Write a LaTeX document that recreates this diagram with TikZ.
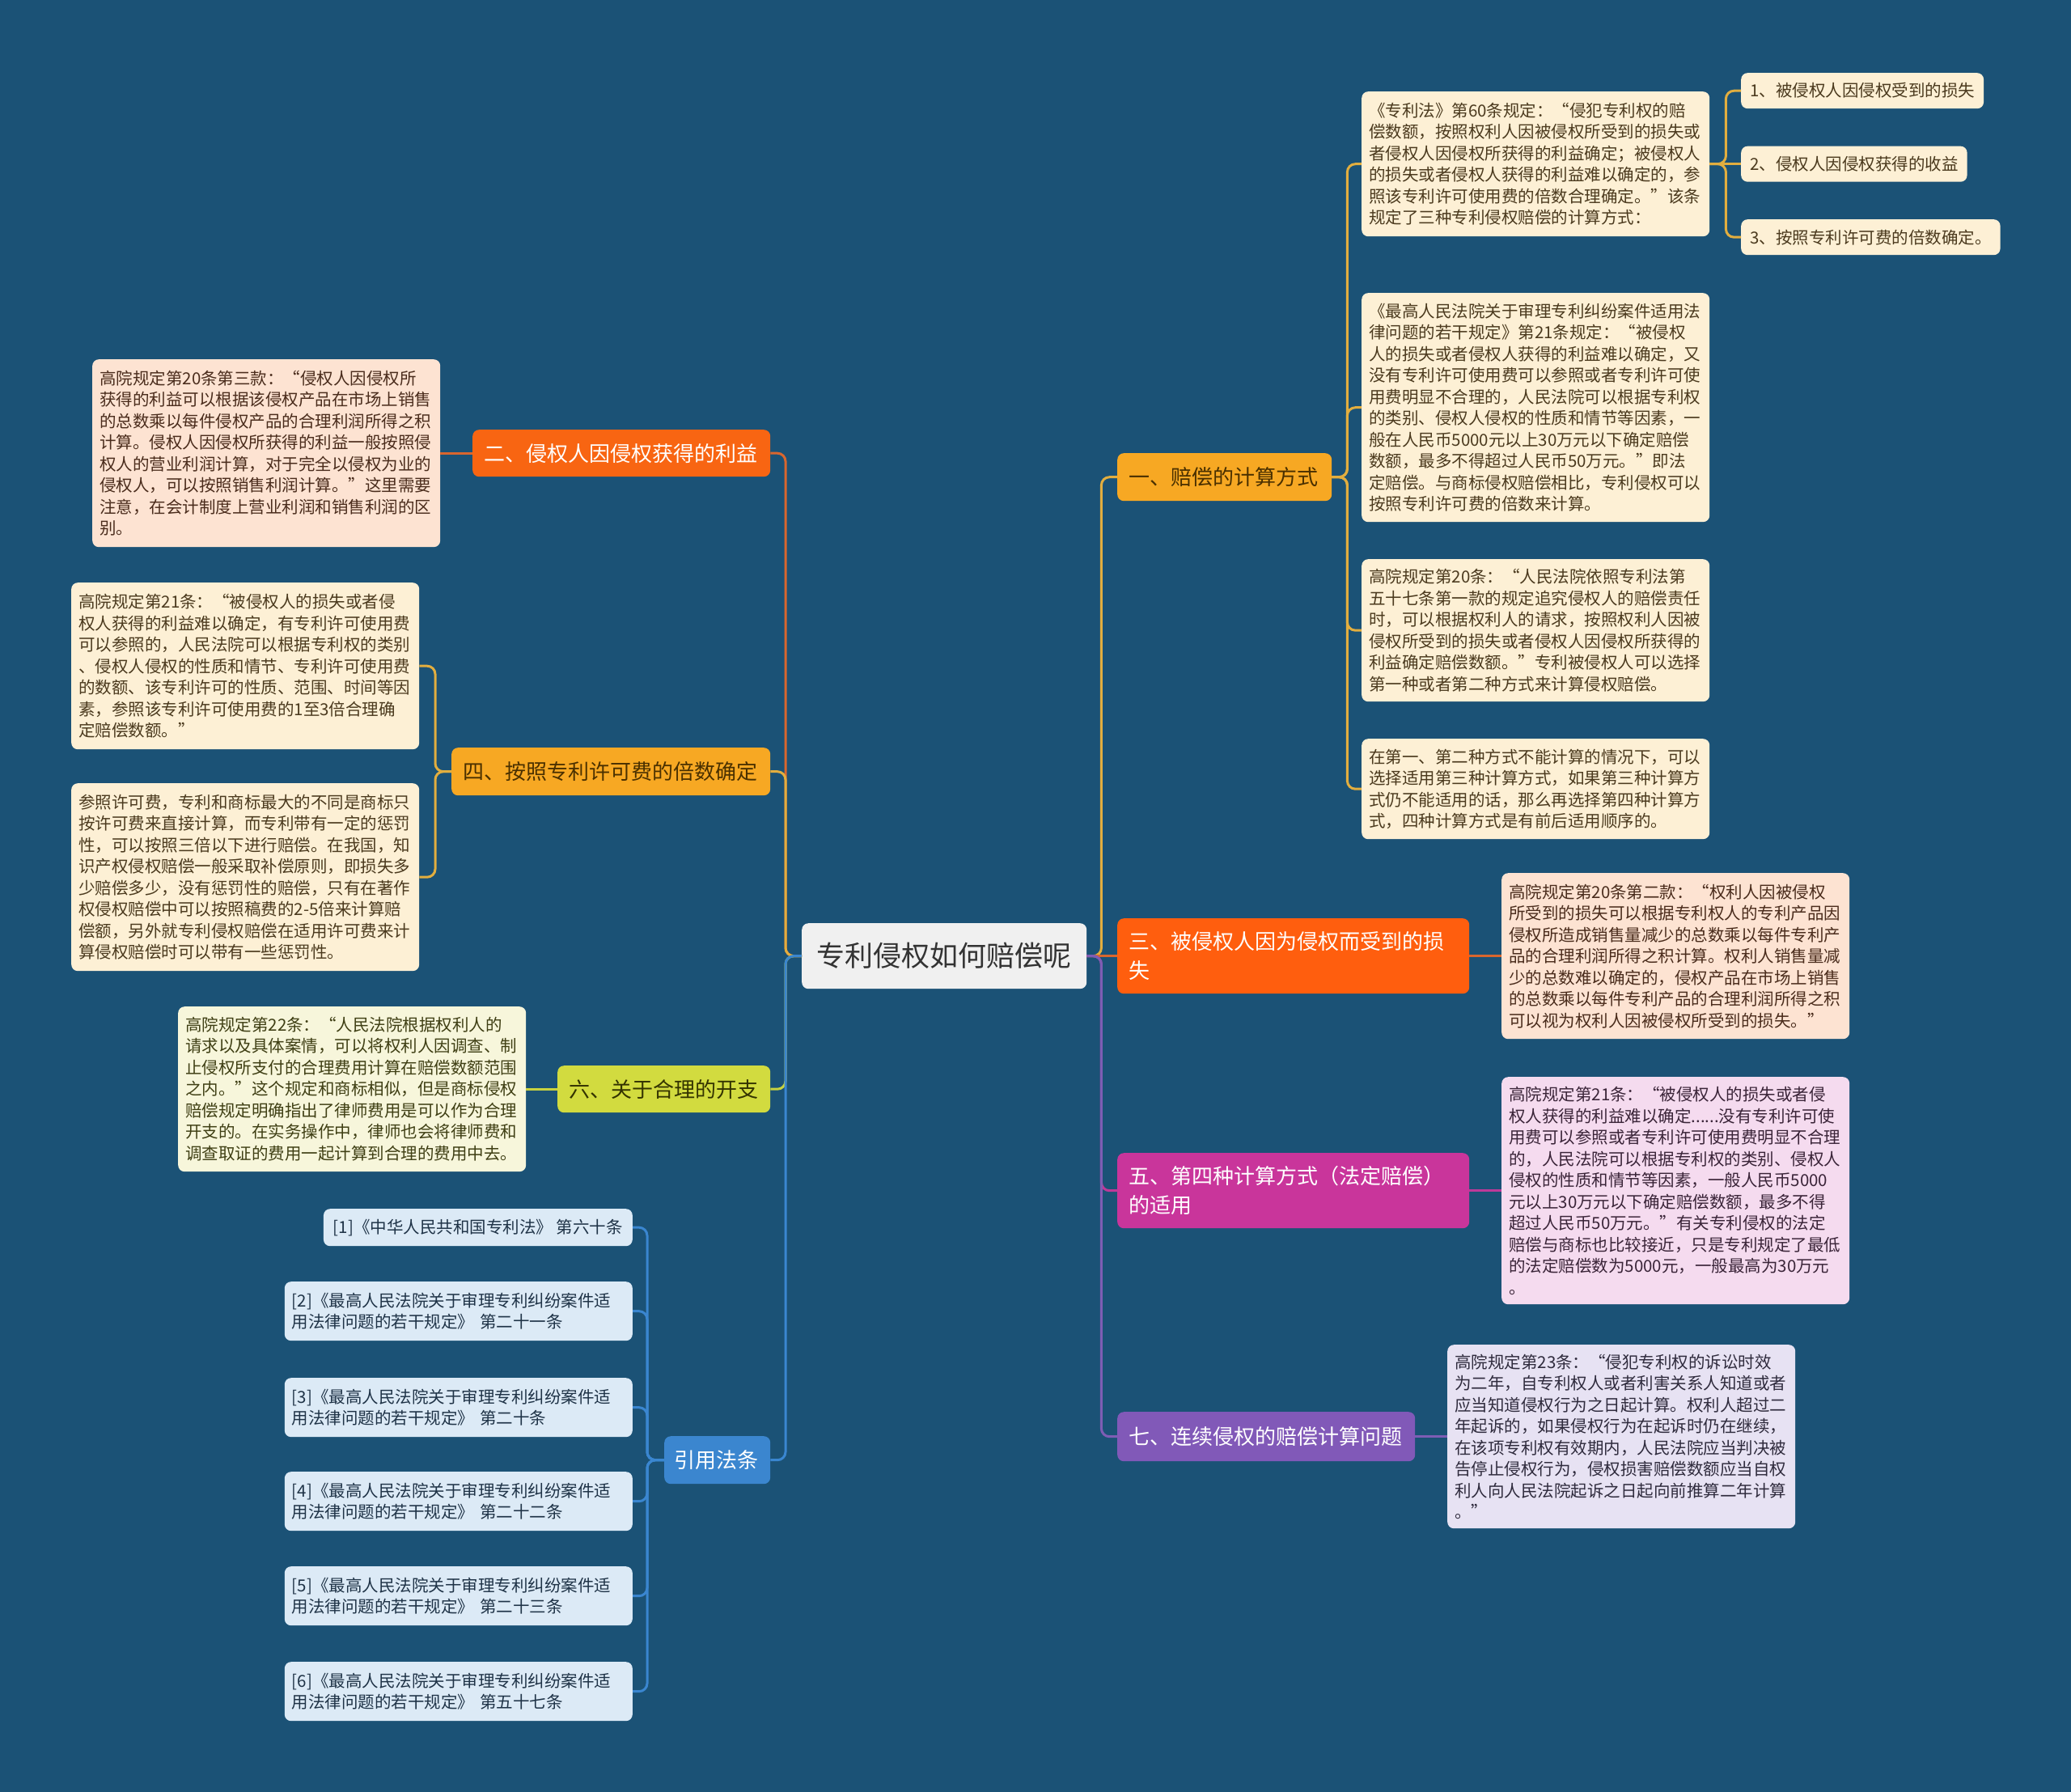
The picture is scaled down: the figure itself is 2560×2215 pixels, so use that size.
\documentclass[tikz,border=0pt]{standalone}
\usepackage{fontspec}
\setmainfont{Noto Sans CJK SC}
\definecolor{bg}{HTML}{1B5276}
\definecolor{rootfill}{HTML}{F0F0F0}
\definecolor{roottext}{HTML}{333333}
\definecolor{goldfill}{HTML}{F7A823}
\definecolor{goldtext}{HTML}{4A3000}
\definecolor{orangeA}{HTML}{F86512}
\definecolor{orangeB}{HTML}{FF5E0E}
\definecolor{magfill}{HTML}{C9359B}
\definecolor{purfill}{HTML}{8159B8}
\definecolor{ygfill}{HTML}{D2DB3F}
\definecolor{ygtext}{HTML}{333300}
\definecolor{bluefill}{HTML}{3B86CF}
\definecolor{creamfill}{HTML}{FDF0D5}
\definecolor{creamtext}{HTML}{4B3A1E}
\definecolor{peachfill}{HTML}{FDE3D2}
\definecolor{peachtext}{HTML}{4A2C1C}
\definecolor{pinkfill}{HTML}{F5DBEF}
\definecolor{pinktext}{HTML}{3A2438}
\definecolor{lavfill}{HTML}{E7E2F3}
\definecolor{lavtext}{HTML}{2F2B3D}
\definecolor{lyfill}{HTML}{F7F6DB}
\definecolor{lytext}{HTML}{3F3F14}
\definecolor{lbfill}{HTML}{DCEAF6}
\definecolor{lbtext}{HTML}{1F3347}
\definecolor{cgold}{HTML}{E2AE3F}
\definecolor{corange}{HTML}{D9662E}
\definecolor{cmag}{HTML}{BE3A99}
\definecolor{cpur}{HTML}{7E5DB4}
\definecolor{cyg}{HTML}{C8D240}
\definecolor{cblue}{HTML}{3A86D0}
\tikzset{
  base/.style={rounded corners=8pt, anchor=north west, align=left, inner ysep=0pt},
  leaf/.style={base, inner xsep=9pt, text width=412pt, font=\fontsize{20.5}{26.5}\selectfont},
  small/.style={base, inner xsep=11pt, minimum height=44pt, font=\fontsize{20.5}{26.5}\selectfont, fill=creamfill, text=creamtext},
  refbox/.style={leaf, anchor=north east, fill=lbfill, text=lbtext},
  br/.style={base, inner xsep=14pt, font=\fontsize{26}{36}\selectfont},
  con/.style={line width=3pt, rounded corners=10pt},
  sline/.style={line width=3pt},
}
\begin{document}
\begin{tikzpicture}[x=1pt,y=-1pt]
\fill[bg] (0,0) rectangle (2560,2215);
\useasboundingbox (0,0) rectangle (2560,2215);

% root
\node[base, align=center, inner xsep=0pt, minimum width=352pt, minimum height=81pt, fill=rootfill, text=roottext, font=\fontsize{35}{40}\selectfont] (root) at (991,1141) {专利侵权如何赔偿呢};

% branches right
\node[br, text width=237pt, minimum height=59pt, fill=goldfill, text=goldtext] (b1) at (1381,560) {一、赔偿的计算方式};
\node[br, text width=407pt, minimum height=93pt, fill=orangeB, text=white] (b3) at (1381,1135) {三、被侵权人因为侵权而受到的损\\失};
\node[br, text width=407pt, minimum height=93pt, fill=magfill, text=white] (b5) at (1381,1425) {五、第四种计算方式（法定赔偿）\\的适用};
\node[br, text width=340pt, minimum height=61pt, fill=purfill, text=white] (b7) at (1381,1745) {七、连续侵权的赔偿计算问题};

% branches left
\node[br, text width=340pt, minimum height=58pt, fill=orangeA, text=white] (b2) at (584,531) {二、侵权人因侵权获得的利益};
\node[br, text width=366pt, minimum height=59pt, fill=goldfill, text=goldtext] (b4) at (558,924) {四、按照专利许可费的倍数确定};
\node[br, text width=235pt, minimum height=58pt, fill=ygfill, text=ygtext] (b6) at (689,1317) {六、关于合理的开支};
\node[br, inner xsep=12pt, text width=107pt, minimum height=59pt, fill=bluefill, text=white] (b8) at (821,1775) {引用法条};

% leaves of 一
\node[leaf, minimum height=179pt, fill=creamfill, text=creamtext] (l1a) at (1683,113) {《专利法》第60条规定：“侵犯专利权的赔\\偿数额，按照权利人因被侵权所受到的损失或\\者侵权人因侵权所获得的利益确定；被侵权人\\的损失或者侵权人获得的利益难以确定的，参\\照该专利许可使用费的倍数合理确定。”该条\\规定了三种专利侵权赔偿的计算方式：};
\node[leaf, minimum height=283pt, fill=creamfill, text=creamtext] (l1b) at (1683,362) {《最高人民法院关于审理专利纠纷案件适用法\\律问题的若干规定》第21条规定：“被侵权\\人的损失或者侵权人获得的利益难以确定，又\\没有专利许可使用费可以参照或者专利许可使\\用费明显不合理的，人民法院可以根据专利权\\的类别、侵权人侵权的性质和情节等因素，一\\般在人民币5000元以上30万元以下确定赔偿\\数额，最多不得超过人民币50万元。”即法\\定赔偿。与商标侵权赔偿相比，专利侵权可以\\按照专利许可费的倍数来计算。};
\node[leaf, minimum height=176pt, fill=creamfill, text=creamtext] (l1c) at (1683,691) {高院规定第20条：“人民法院依照专利法第\\五十七条第一款的规定追究侵权人的赔偿责任\\时，可以根据权利人的请求，按照权利人因被\\侵权所受到的损失或者侵权人因侵权所获得的\\利益确定赔偿数额。”专利被侵权人可以选择\\第一种或者第二种方式来计算侵权赔偿。};
\node[leaf, minimum height=124pt, fill=creamfill, text=creamtext] (l1d) at (1683,913) {在第一、第二种方式不能计算的情况下，可以\\选择适用第三种计算方式，如果第三种计算方\\式仍不能适用的话，那么再选择第四种计算方\\式，四种计算方式是有前后适用顺序的。};

\node[small] (c1) at (2152,90) {1、被侵权人因侵权受到的损失};
\node[small] (c2) at (2152,180.5) {2、侵权人因侵权获得的收益};
\node[small] (c3) at (2152,271) {3、按照专利许可费的倍数确定。};

% leaves of 三 五 七
\node[leaf, minimum height=205pt, fill=peachfill, text=peachtext] (l3) at (1856,1079) {高院规定第20条第二款：“权利人因被侵权\\所受到的损失可以根据专利权人的专利产品因\\侵权所造成销售量减少的总数乘以每件专利产\\品的合理利润所得之积计算。权利人销售量减\\少的总数难以确定的，侵权产品在市场上销售\\的总数乘以每件专利产品的合理利润所得之积\\可以视为权利人因被侵权所受到的损失。”};
\node[leaf, minimum height=281pt, fill=pinkfill, text=pinktext] (l5) at (1856,1331) {高院规定第21条：“被侵权人的损失或者侵\\权人获得的利益难以确定......没有专利许可使\\用费可以参照或者专利许可使用费明显不合理\\的，人民法院可以根据专利权的类别、侵权人\\侵权的性质和情节等因素，一般人民币5000\\元以上30万元以下确定赔偿数额，最多不得\\超过人民币50万元。”有关专利侵权的法定\\赔偿与商标也比较接近，只是专利规定了最低\\的法定赔偿数为5000元，一般最高为30万元\\。};
\node[leaf, minimum height=227pt, fill=lavfill, text=lavtext] (l7) at (1789,1662) {高院规定第23条：“侵犯专利权的诉讼时效\\为二年，自专利权人或者利害关系人知道或者\\应当知道侵权行为之日起计算。权利人超过二\\年起诉的，如果侵权行为在起诉时仍在继续，\\在该项专利权有效期内，人民法院应当判决被\\告停止侵权行为，侵权损害赔偿数额应当自权\\利人向人民法院起诉之日起向前推算二年计算\\。”};

% leaves left
\node[leaf, minimum height=232pt, fill=peachfill, text=peachtext] (l2) at (114,444) {高院规定第20条第三款：“侵权人因侵权所\\获得的利益可以根据该侵权产品在市场上销售\\的总数乘以每件侵权产品的合理利润所得之积\\计算。侵权人因侵权所获得的利益一般按照侵\\权人的营业利润计算，对于完全以侵权为业的\\侵权人，可以按照销售利润计算。”这里需要\\注意，在会计制度上营业利润和销售利润的区\\别。};
\node[leaf, minimum height=206pt, fill=creamfill, text=creamtext] (l4a) at (88,720) {高院规定第21条：“被侵权人的损失或者侵\\权人获得的利益难以确定，有专利许可使用费\\可以参照的，人民法院可以根据专利权的类别\\、侵权人侵权的性质和情节、专利许可使用费\\的数额、该专利许可的性质、范围、时间等因\\素，参照该专利许可使用费的1至3倍合理确\\定赔偿数额。”};
\node[leaf, minimum height=232pt, fill=creamfill, text=creamtext] (l4b) at (88,968) {参照许可费，专利和商标最大的不同是商标只\\按许可费来直接计算，而专利带有一定的惩罚\\性，可以按照三倍以下进行赔偿。在我国，知\\识产权侵权赔偿一般采取补偿原则，即损失多\\少赔偿多少，没有惩罚性的赔偿，只有在著作\\权侵权赔偿中可以按照稿费的2-5倍来计算赔\\偿额，另外就专利侵权赔偿在适用许可费来计\\算侵权赔偿时可以带有一些惩罚性。};
\node[leaf, minimum height=204pt, fill=lyfill, text=lytext] (l6) at (220,1244) {高院规定第22条：“人民法院根据权利人的\\请求以及具体案情，可以将权利人因调查、制\\止侵权所支付的合理费用计算在赔偿数额范围\\之内。”这个规定和商标相似，但是商标侵权\\赔偿规定明确指出了律师费用是可以作为合理\\开支的。在实务操作中，律师也会将律师费和\\调查取证的费用一起计算到合理的费用中去。};

% references
\node[base, anchor=north east, inner xsep=12pt, minimum height=46pt, font=\fontsize{20.5}{26.5}\selectfont, fill=lbfill, text=lbtext] (r1) at (782,1494) {[1]《中华人民共和国专利法》 第六十条};
\node[refbox, minimum height=73pt] (r2) at (782,1584) {[2]《最高人民法院关于审理专利纠纷案件适\\用法律问题的若干规定》 第二十一条};
\node[refbox, minimum height=73pt] (r3) at (782,1703) {[3]《最高人民法院关于审理专利纠纷案件适\\用法律问题的若干规定》 第二十条};
\node[refbox, minimum height=73pt] (r4) at (782,1819) {[4]《最高人民法院关于审理专利纠纷案件适\\用法律问题的若干规定》 第二十二条};
\node[refbox, minimum height=73pt] (r5) at (782,1936) {[5]《最高人民法院关于审理专利纠纷案件适\\用法律问题的若干规定》 第二十三条};
\node[refbox, minimum height=73pt] (r6) at (782,2054) {[6]《最高人民法院关于审理专利纠纷案件适\\用法律问题的若干规定》 第五十七条};

% connectors root -> branches
\draw[con, cgold] (root.east) -- ++(18,0) |- (b1.west);
\draw[sline, corange] (root.east) -- (b3.west);
\draw[con, cmag] (root.east) -- ++(18,0) |- (b5.west);
\draw[con, cpur] (root.east) -- ++(18,0) |- (b7.west);
\draw[con, corange] (root.west) -- ++(-20,0) |- (b2.east);
\draw[con, cgold] (root.west) -- ++(-20,0) |- (b4.east);
\draw[con, cyg] (root.west) -- ++(-20,0) |- (b6.east);
\draw[con, cblue] (root.west) -- ++(-20,0) |- (b8.east);

% branch -> leaves
\foreach \n in {l1a,l1b,l1c,l1d} {\draw[con, cgold] (b1.east) -- ++(19,0) |- (\n.west);}
\foreach \n in {c1,c3} {\draw[con, cgold] (l1a.east) -- ++(20,0) |- (\n.west);}
\draw[sline, cgold] (l1a.east) -- (c2.west);
\draw[sline, corange] (b3.east) -- (l3.west);
\draw[sline, cmag] (b5.east) -- (l5.west);
\draw[sline, cpur] (b7.east) -- (l7.west);
\draw[sline, corange] (b2.west) -- (l2.east);
\foreach \n in {l4a,l4b} {\draw[con, cgold] (b4.west) -- ++(-20,0) |- (\n.east);}
\draw[sline, cyg] (b6.west) -- (l6.east);
\foreach \n in {r1,r2,r3,r4,r5,r6} {\draw[con, cblue] (b8.west) -- ++(-21,0) |- (\n.east);}
\end{tikzpicture}
\end{document}
